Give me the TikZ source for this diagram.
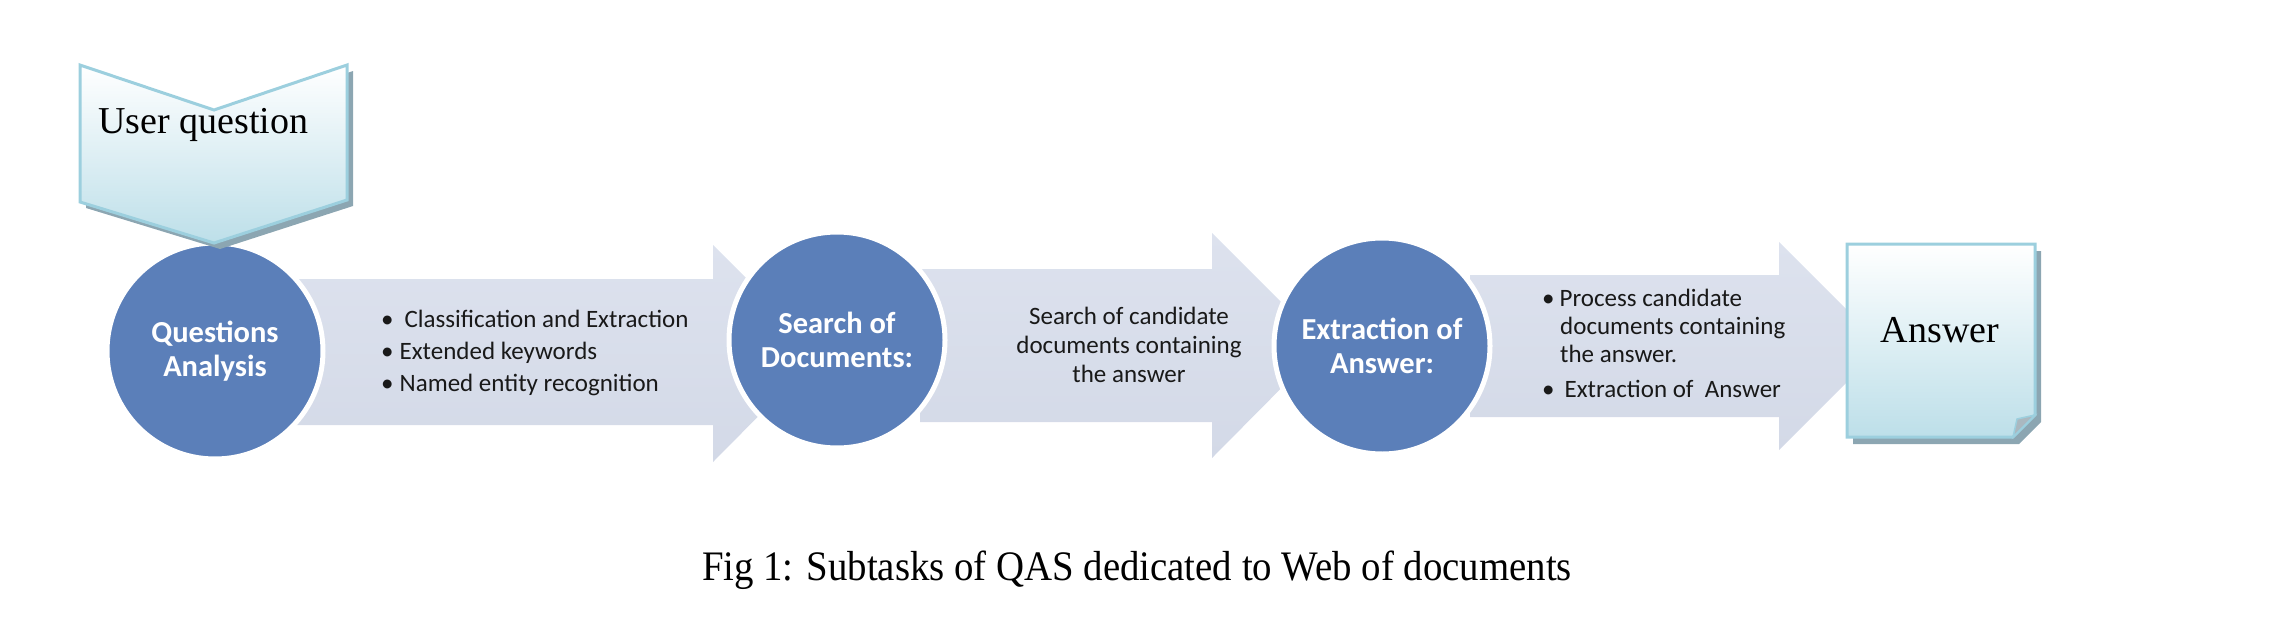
\documentclass[tikz,border=0pt]{standalone}
\usepackage{fontspec}
\setmainfont{Liberation Serif}
\newfontfamily\calfont{Carlito}
\definecolor{circfill}{RGB}{91,127,185}
\definecolor{arrowtop}{RGB}{221,226,238}
\definecolor{arrowbot}{RGB}{211,217,231}
\definecolor{chevbot}{RGB}{189,223,233}
\definecolor{chevborder}{RGB}{156,207,222}
\definecolor{shadowc}{RGB}{140,166,178}
\definecolor{foldc}{RGB}{170,184,192}
\definecolor{txtc}{RGB}{25,25,25}
\begin{document}
\begin{tikzpicture}[x=1pt,y=-1pt,
  blockarrow/.style={top color=arrowtop, bottom color=arrowbot, draw=none},
  circ/.style={circle, fill=circfill, draw=white, line width=5pt, minimum size=216pt, inner sep=0pt,
    text=white, align=center, font=\calfont\bfseries\fontsize{30.5}{34}\selectfont},
  arrtxt/.style={text=txtc, inner sep=0pt, font=\calfont\fontsize{25}{29}\selectfont},
  serif/.style={text=black, inner sep=0pt, font=\fontsize{38}{40}\selectfont},
  shapeshade/.style={top color=white, bottom color=chevbot, draw=chevborder, line width=3pt, line join=miter}
]
\useasboundingbox (0,0) rectangle (2294,616);

% block arrows
\shade[blockarrow] (290,279) -- (713,279) -- (713,245) -- (821,353) -- (713,462) -- (713,425) -- (290,425) -- cycle;
\shade[blockarrow] (920,269) -- (1212,269) -- (1212,233) -- (1324,345) -- (1212,458) -- (1212,422) -- (920,422) -- cycle;
\shade[blockarrow] (1470,275) -- (1779,275) -- (1779,242) -- (1883,346) -- (1779,450) -- (1779,417) -- (1470,417) -- cycle;

% circles
\node[circ] (qa) at (215,351) {Questions\\Analysis};
\node[circ] (sd) at (837,340) {Search of\\Documents:};
\node[circ] (ea) at (1382,346) {Extraction of\\Answer:};

% arrow texts (base anchor = baseline of last line)
\node[arrtxt, anchor=base west, align=left, font=\calfont\fontsize{25}{32}\selectfont] (t1) at (381,391)
  {\textbullet\hspace{11pt}Classification and Extraction\\\textbullet\hspace{6pt}Extended keywords\\\textbullet\hspace{6pt}Named entity recognition};
\node[arrtxt, anchor=base, align=center] (t2) at (1129,382)
  {Search of candidate\\documents containing\\the answer};
\node[arrtxt, anchor=base west, align=left, font=\calfont\fontsize{25}{28}\selectfont] (t3) at (1542,397)
  {\textbullet\hspace{5pt}Process candidate\\\hspace{18pt}documents containing\\\hspace{18pt}the answer.\\[7pt]\textbullet\hspace{10pt}Extraction of\ \ Answer};

% user question chevron
\begin{scope}[shift={(6,6)}]
  \fill[shadowc] (80,65) -- (214,110) -- (347,65) -- (347,200) -- (214,243) -- (80,202) -- cycle;
\end{scope}
\shade[shapeshade] (80,65) -- (214,110) -- (347,65) -- (347,200) -- (214,243) -- (80,202) -- cycle;
\node[serif, anchor=base west] (uq) at (98,133) {User question};

% answer box
\begin{scope}[shift={(6,7)}]
  \fill[shadowc] (1847,244) -- (2035,244) -- (2035,415) -- (2013,437) -- (1847,437) -- cycle;
\end{scope}
\shade[shapeshade] (1847,244) -- (2035,244) -- (2035,415) -- (2013,437) -- (1847,437) -- cycle;
\filldraw[fill=foldc, draw=chevborder, line width=1.5pt] (2035,415) -- (2013,437) -- (2017,419) -- cycle;
\node[serif, anchor=base] (ans) at (1940,342) {Answer};

% caption
\node[serif, anchor=base, font=\fontsize{42}{44}\selectfont] (cap) at (1137,580)
  {\scalebox{0.924}[1]{Fig 1: Subtasks of QAS dedicated to Web of documents}};
\end{tikzpicture}
\end{document}
